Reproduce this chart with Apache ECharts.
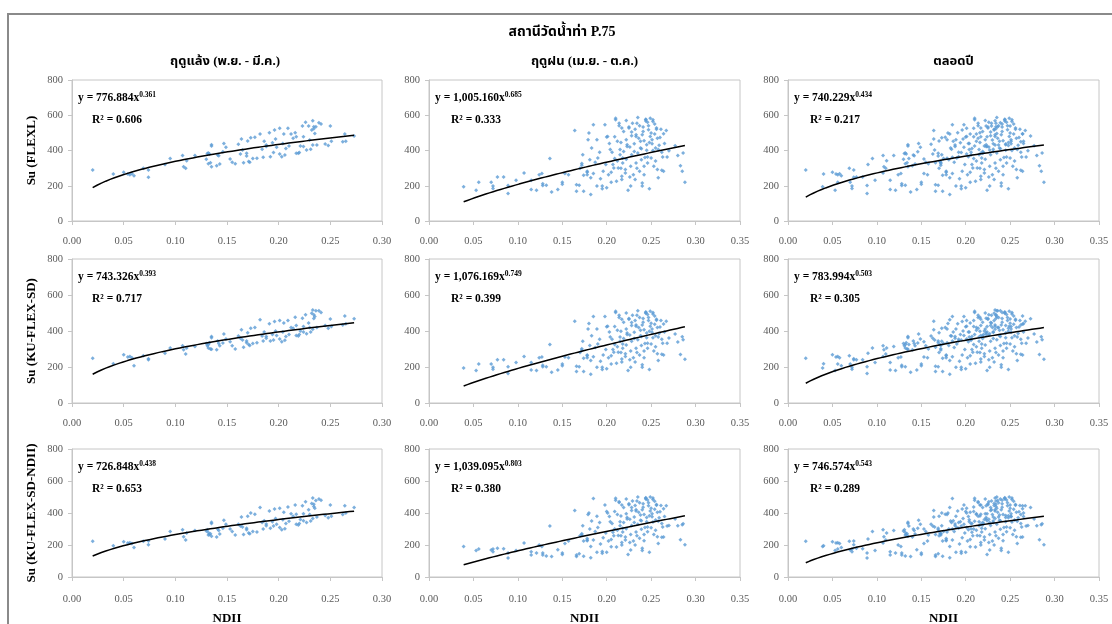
<!DOCTYPE html>
<html><head><meta charset="utf-8">
<script src="https://cdn.jsdelivr.net/npm/echarts@6/dist/echarts.min.js"></script>
<style>html,body{margin:0;padding:0;background:#fff}#c{width:1112px;height:624px}</style>
</head><body><div id="c"></div>
<script>
const mainTitle = 'สถานีวัดน้ำท่า P.75';
const columnTitles = ['ฤดูแล้ง (พ.ย. - มี.ค.)', 'ฤดูฝน (เม.ย. - ต.ค.)', 'ตลอดปี'];
const rowTitles = ['Su (FLEXL)', 'Su (KU-FLEX-SD)', 'Su (KU-FLEX-SD-NDII)'];
const xAxisTitle = 'NDII';
const xMaxByCol = [0.30, 0.35, 0.35];
const yMax = 800;
const yStep = 200;
const xStep = 0.05;

// Dry season (Nov - Mar): NDII and Su of the three models
const dryX = [0.020,0.040,0.050,0.054,0.056,0.058,0.060,0.069,0.074,0.074,0.090,0.095,0.107,0.108,0.110,0.111,0.119,0.130,0.131,0.132,0.133,0.132,0.134,0.135,0.135,0.135,0.140,0.143,0.141,0.142,0.146,0.147,0.149,0.153,0.155,0.158,0.161,0.163,0.164,0.165,0.166,0.169,0.169,0.170,0.171,0.172,0.173,0.175,0.177,0.179,0.182,0.184,0.185,0.186,0.188,0.188,0.191,0.192,0.194,0.195,0.196,0.197,0.198,0.201,0.201,0.203,0.204,0.205,0.206,0.207,0.209,0.210,0.212,0.214,0.216,0.217,0.217,0.219,0.220,0.221,0.223,0.224,0.224,0.226,0.227,0.229,0.230,0.231,0.232,0.233,0.233,0.234,0.234,0.235,0.236,0.237,0.239,0.241,0.245,0.248,0.250,0.251,0.262,0.264,0.265,0.273];
const dryFLEXL = [290,267,276,266,262,268,257,299,289,248,321,354,371,308,299,342,371,350,383,386,380,325,330,425,432,308,314,323,375,370,393,440,418,352,333,325,435,380,465,403,331,369,384,454,337,333,473,354,475,356,494,407,361,452,431,422,501,365,444,388,516,465,418,526,380,365,440,494,375,412,526,425,494,469,501,478,384,384,388,425,539,478,422,560,403,539,460,407,516,569,431,535,524,497,535,431,558,550,437,429,539,452,450,494,452,482];
const dryKUFLEXSD = [249,218,268,255,259,252,207,262,246,240,277,305,318,296,272,305,314,330,318,325,335,305,300,370,362,298,296,318,345,330,333,384,356,340,318,300,372,360,407,350,310,335,345,390,325,320,415,330,420,335,462,372,345,395,370,360,440,345,380,350,453,400,375,458,355,340,395,444,348,370,458,380,420,415,477,430,375,372,380,400,471,425,395,490,385,444,420,395,499,517,410,490,470,480,512,420,512,503,430,415,466,425,434,484,440,468];
const dryKUFLEXSDNDII = [223,196,221,212,214,210,185,224,225,202,238,285,296,252,232,275,290,288,296,278,265,262,270,342,335,255,250,268,300,290,305,354,330,300,285,262,330,318,375,312,265,295,305,380,275,270,400,285,392,282,435,340,300,352,332,320,412,305,345,318,425,365,330,430,310,295,358,405,302,335,438,348,395,380,450,392,330,325,335,360,445,395,352,470,340,420,390,350,460,494,365,455,440,430,478,375,487,480,385,370,450,380,390,445,400,435];

// Wet season (Apr - Oct): NDII and Su of the three models
const wetX = [0.039,0.053,0.056,0.070,0.072,0.072,0.077,0.084,0.089,0.089,0.098,0.107,0.115,0.115,0.121,0.124,0.127,0.128,0.128,0.132,0.136,0.138,0.145,0.150,0.150,0.153,0.157,0.164,0.166,0.166,0.169,0.172,0.172,0.173,0.174,0.174,0.178,0.178,0.178,0.179,0.180,0.181,0.182,0.182,0.183,0.185,0.187,0.189,0.189,0.190,0.192,0.195,0.195,0.196,0.198,0.199,0.200,0.201,0.200,0.202,0.204,0.205,0.207,0.208,0.209,0.210,0.210,0.211,0.212,0.213,0.214,0.214,0.215,0.215,0.217,0.217,0.217,0.218,0.218,0.219,0.221,0.221,0.222,0.222,0.223,0.223,0.224,0.225,0.225,0.227,0.227,0.228,0.228,0.229,0.230,0.231,0.232,0.233,0.233,0.233,0.234,0.235,0.235,0.237,0.238,0.238,0.239,0.240,0.240,0.240,0.241,0.241,0.242,0.242,0.244,0.244,0.244,0.245,0.245,0.246,0.246,0.247,0.247,0.248,0.249,0.249,0.250,0.251,0.251,0.252,0.252,0.253,0.254,0.255,0.256,0.256,0.257,0.258,0.258,0.260,0.262,0.263,0.264,0.264,0.267,0.268,0.270,0.277,0.280,0.283,0.285,0.286,0.288,0.203,0.206,0.209,0.212,0.216,0.219,0.222,0.226,0.228,0.231,0.232,0.236,0.237,0.239,0.242,0.243,0.246,0.248,0.250,0.252,0.254,0.255,0.257,0.259,0.261,0.262,0.265,0.170,0.185,0.193,0.205,0.216,0.226,0.234];
const wetFLEXL = [194,175,220,220,198,184,250,250,201,156,231,273,231,179,175,263,269,212,201,203,354,164,179,220,209,269,263,514,205,169,203,316,326,376,260,169,282,263,277,461,499,348,150,245,414,546,333,461,198,358,390,183,198,282,546,320,476,480,188,263,405,277,320,301,354,574,583,226,452,301,540,555,405,376,527,254,235,358,329,508,273,292,570,461,433,423,175,527,533,310,198,376,484,555,263,438,235,329,480,489,555,587,386,282,452,414,348,198,216,489,533,508,310,263,578,568,574,433,401,363,329,518,540,183,480,583,358,461,438,574,564,310,493,414,527,521,292,405,245,474,288,363,495,282,514,363,399,427,371,314,282,386,220,440,390,478,340,445,395,350,420,505,395,520,470,540,410,455,360,560,445,500,400,550,340,470,430,520,390,440,300,270,240,220,300,250,300];
const wetKUFLEXSD = [195,180,216,216,198,187,240,240,201,164,225,259,225,183,180,251,256,210,201,202,325,171,183,216,207,256,251,454,204,175,202,294,302,343,249,175,266,251,262,411,442,320,160,236,373,480,308,411,198,328,354,186,198,266,480,297,424,427,190,251,366,262,297,282,325,503,510,221,404,282,475,487,366,343,465,244,228,328,304,449,259,274,500,411,389,381,180,465,470,289,198,343,430,487,251,393,228,304,427,434,487,513,351,266,404,373,320,198,213,434,470,449,289,251,506,498,503,389,363,332,304,458,475,186,427,510,328,411,393,503,495,289,437,373,465,460,274,366,236,422,271,332,439,266,454,332,361,384,339,270,368,351,243,394,354,425,313,398,358,322,378,447,358,459,419,475,370,407,330,492,398,443,362,484,313,419,386,459,354,394,281,257,232,216,281,240,281];
const wetKUFLEXSDNDII = [190,165,175,168,175,158,180,176,150,118,165,212,158,138,150,200,190,150,138,132,318,128,170,150,140,210,225,415,138,128,145,270,262,320,225,130,240,226,232,390,400,300,120,190,350,490,285,380,155,310,340,148,160,245,450,275,410,400,155,225,345,235,280,258,300,480,492,188,390,260,465,470,345,320,450,215,200,305,282,435,232,250,488,395,372,362,140,452,458,265,168,322,415,475,225,375,200,282,412,420,475,500,330,242,388,355,298,165,180,420,458,436,266,226,495,488,492,372,345,312,283,445,464,155,412,500,308,396,376,493,485,266,424,356,453,448,251,348,210,408,248,312,426,250,445,318,322,362,320,233,327,333,202,378,335,410,292,382,340,301,361,434,340,447,404,464,352,391,310,482,383,430,344,473,292,404,370,447,335,378,258,232,206,189,258,215,258];

// Power trend lines shown on the chart: y = a·x^b, with R²
const fitA = [[776.884, 1005.160, 740.229], [743.326, 1076.169, 783.994], [726.848, 1039.095, 746.574]];
const fitB = [[0.361, 0.685, 0.434], [0.393, 0.749, 0.503], [0.438, 0.803, 0.543]];
const fitR2 = [[0.606, 0.333, 0.217], [0.717, 0.399, 0.305], [0.653, 0.380, 0.289]];

const drySu = [dryFLEXL, dryKUFLEXSD, dryKUFLEXSDNDII];
const wetSu = [wetFLEXL, wetKUFLEXSD, wetKUFLEXSDNDII];

// layout
const colLeft = [72, 429, 788];
const colWidth = [310, 311, 311];
const rowTop = [80, 259, 449];
const rowHeight = [141, 144, 128];
const SERIF = '"Liberation Serif","Times New Roman",serif';
const THAI = '"Liberation Serif","Noto Sans Thai","Loma","Garuda","Tlwg Typo","Norasi",serif';

function pairs(xs, ys) { return xs.map((x, i) => [x, ys[i]]); }
function fmtA(a) { return a.toFixed(3).replace(/\B(?=(\d{3})+(?!\d))/g, ','); }

const grids = [], xAxes = [], yAxes = [], series = [], graphics = [];
for (let r = 0; r < 3; r++) {
  for (let c = 0; c < 3; c++) {
    const idx = r * 3 + c;
    grids.push({ left: colLeft[c], top: rowTop[r], width: colWidth[c], height: rowHeight[r],
      containLabel: false, outerBoundsMode: 'none',
      show: true, borderColor: '#c6c6c6', borderWidth: 1, backgroundColor: 'transparent' });
    xAxes.push({ gridIndex: idx, type: 'value', min: 0, max: xMaxByCol[c], interval: xStep,
      name: r === 2 ? xAxisTitle : '', nameLocation: 'middle', nameGap: 35,
      nameTextStyle: { fontFamily: SERIF, fontWeight: 'bold', fontSize: 13, color: '#000' },
      axisLine: { show: true, onZero: false, lineStyle: { color: '#c6c6c6' } },
      axisTick: { show: true, length: 4, lineStyle: { color: '#c6c6c6' } },
      splitLine: { show: false },
      axisLabel: { margin: r === 2 ? 17 : 15, fontFamily: SERIF, fontSize: 10.5, color: '#595959', formatter: v => v.toFixed(2) } });
    yAxes.push({ gridIndex: idx, type: 'value', min: 0, max: yMax, interval: yStep,
      name: c === 0 ? rowTitles[r] : '', nameLocation: 'middle', nameGap: 34, nameRotate: 90,
      nameTextStyle: { fontFamily: SERIF, fontWeight: 'bold', fontSize: 13, color: '#000' },
      axisLine: { show: true, lineStyle: { color: '#c6c6c6' } },
      axisTick: { show: true, length: 4, lineStyle: { color: '#c6c6c6' } },
      splitLine: { show: false },
      axisLabel: { margin: 9, fontFamily: SERIF, fontSize: 10.5, color: '#595959' } });

    let xs, ys;
    if (c === 0) { xs = dryX; ys = drySu[r]; }
    else if (c === 1) { xs = wetX; ys = wetSu[r]; }
    else { xs = dryX.concat(wetX); ys = drySu[r].concat(wetSu[r]); }
    series.push({ type: 'scatter', xAxisIndex: idx, yAxisIndex: idx, data: pairs(xs, ys),
      symbol: 'diamond', symbolSize: 4, itemStyle: { color: '#5b9bd5' }, silent: true, z: 2 });
    const x0 = Math.min(...xs), x1 = Math.max(...xs);
    const line = [];
    const n = 60;
    for (let k = 0; k <= n; k++) {
      const x = x0 + (x1 - x0) * k / n;
      line.push([x, fitA[r][c] * Math.pow(x, fitB[r][c])]);
    }
    series.push({ type: 'line', xAxisIndex: idx, yAxisIndex: idx, data: line, showSymbol: false,
      lineStyle: { color: '#000', width: 1.5 }, silent: true, z: 3 });

    const r2Dx = c === 0 ? 20 : 22;
    graphics.push({ type: 'text', x: colLeft[c] + 6, y: rowTop[r] + 18,
      style: { text: '{m|y = ' + fmtA(fitA[r][c]) + 'x}{s|' + fitB[r][c].toFixed(3) + '}',
        textVerticalAlign: 'middle', fill: '#000',
        rich: { m: { fontFamily: SERIF, fontWeight: 'bold', fontSize: 11.5, lineHeight: 14 },
                s: { fontFamily: SERIF, fontWeight: 'bold', fontSize: 7.5, verticalAlign: 'top', lineHeight: 14 } } } });
    graphics.push({ type: 'text', x: colLeft[c] + r2Dx, y: rowTop[r] + 40,
      style: { text: 'R² = ' + fitR2[r][c].toFixed(3), textVerticalAlign: 'middle', fill: '#000',
        font: 'bold 11.5px ' + SERIF } });
  }
}
// column titles
for (let c = 0; c < 3; c++) {
  graphics.push({ type: 'text', x: colLeft[c] + colWidth[c] / 2 + (c === 0 ? -2 : (c === 1 ? 0 : 10)), y: 62,
    style: { text: columnTitles[c], textAlign: 'center', textVerticalAlign: 'middle', fill: '#000',
      font: 'bold 13px ' + THAI } });
}
graphics.push({ type: 'text', x: 562, y: 32,
  style: { text: mainTitle, textAlign: 'center', textVerticalAlign: 'middle', fill: '#000', font: 'bold 14px ' + THAI } });
graphics.push({ type: 'rect', shape: { x: 8, y: 14, width: 1130, height: 640 },
  style: { fill: 'none', stroke: '#8a8a8a', lineWidth: 2 }, z: -1 });

const chart = echarts.init(document.getElementById('c'), null, { renderer: 'canvas' });
chart.setOption({
  animation: false,
  backgroundColor: '#fff',
  grid: grids, xAxis: xAxes, yAxis: yAxes, series: series, graphic: graphics
});
</script></body></html>
